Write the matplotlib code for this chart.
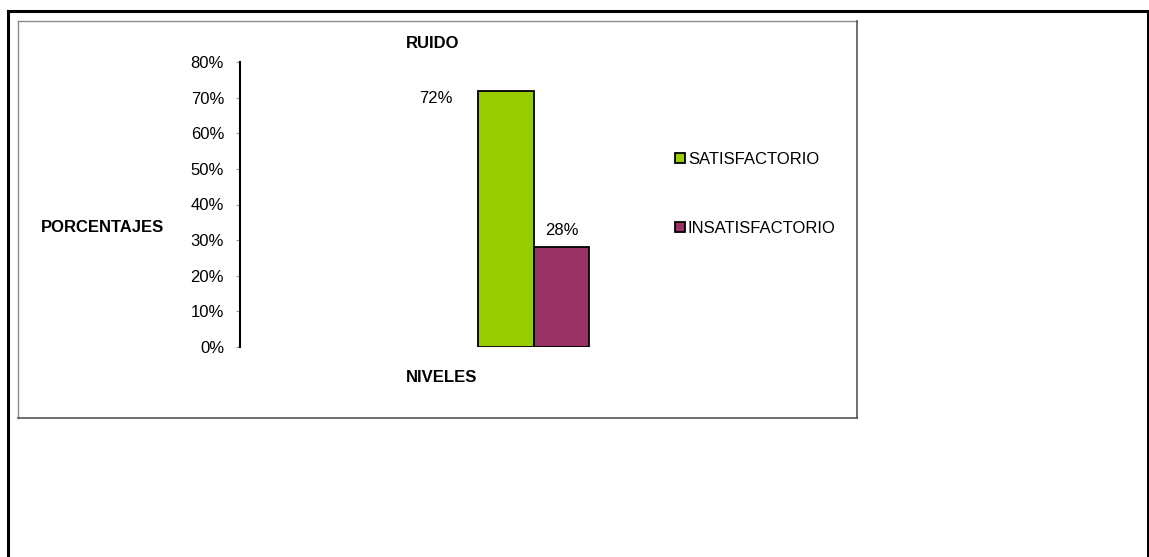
import matplotlib
matplotlib.use("Agg")
import matplotlib.pyplot as plt
from matplotlib.lines import Line2D
from matplotlib.ticker import FuncFormatter

plt.rcParams['font.family'] = ['Liberation Sans', 'DejaVu Sans']

categorias = ['SATISFACTORIO', 'INSATISFACTORIO']
porcentajes = [72, 28]
colores = ['#99CC00', '#993366']
titulo = 'RUIDO'
eje_x = 'NIVELES'
eje_y = 'PORCENTAJES'

W, H = 1149, 557
fs = 12
fig = plt.figure(figsize=(W / 100, H / 100), dpi=100)


def fx(x):
    return x / W


def fy(y):
    return 1 - y / H


# marco exterior negro y recuadro gris del grafico
for xs, ys, c, lw in [
    ([8, 8], [11, H + 5], 'black', 2.2),
    ([8, 1147.5], [11, 11], 'black', 2.2),
    ([1147.5, 1147.5], [11, H + 5], 'black', 2.2),
    ([18, 857], [21, 21], '#8a8a8a', 1.0),
    ([18, 18], [21, 418], '#8a8a8a', 1.0),
    ([857, 857], [21, 418], '#555555', 1.2),
    ([18, 857], [418, 418], '#555555', 1.2),
]:
    fig.add_artist(Line2D([fx(v) for v in xs], [fy(v) for v in ys],
                          color=c, lw=lw, transform=fig.transFigure))

# area de trazado: eje y en x=240, 0% en y=347, 80% en y=62
ax = fig.add_axes([fx(240), fy(347), fx(827) - fx(240), (347 - 62) / H])
ax.patch.set_alpha(0)
ancho = 0.095
pos = [-ancho / 2, ancho / 2]
barras = []
for p, v, c, nombre in zip(pos, porcentajes, colores, categorias):
    b = ax.bar(p, v, width=ancho, color=c, edgecolor='black', linewidth=1.3,
               label=nombre)
    barras.append(b[0])

ax.set_xlim(-0.5, 0.5)
ax.set_ylim(0, 80)
ax.set_yticks(range(0, 81, 10))
ax.yaxis.set_major_formatter(FuncFormatter(lambda v, _: f'{int(v)}%'))
ax.set_xticks([])
for s in ['top', 'right', 'bottom']:
    ax.spines[s].set_visible(False)
ax.spines['left'].set_linewidth(1.5)
ax.tick_params(axis='y', direction='out', length=3, width=0.8, color='#999999',
               pad=8.5, labelsize=fs)

# etiquetas de valor
desplaz = [(-70, -8), (0, 17)]
for b, v, d in zip(barras, porcentajes, desplaz):
    ax.annotate(f'{v}%', xy=(b.get_x() + b.get_width() / 2, v), xytext=d,
                textcoords='offset pixels', ha='center', va='center',
                fontsize=fs)

fig.text(fx(433), fy(43), titulo, ha='center', va='center',
         fontsize=fs, fontweight='bold')
fig.text(fx(442), fy(378), eje_x, ha='center', va='center',
         fontsize=fs, fontweight='bold')
fig.text(fx(102), fy(228), eje_y, ha='center', va='center',
         fontsize=fs, fontweight='bold')

fig.legend(handles=barras, labels=categorias, loc='center left',
           bbox_to_anchor=(fx(667), fy(194)), frameon=False, fontsize=fs,
           handlelength=0.55, handleheight=0.55, handletextpad=0.2,
           labelspacing=3.25, borderpad=0)

fig.savefig('out.png', dpi=100)
